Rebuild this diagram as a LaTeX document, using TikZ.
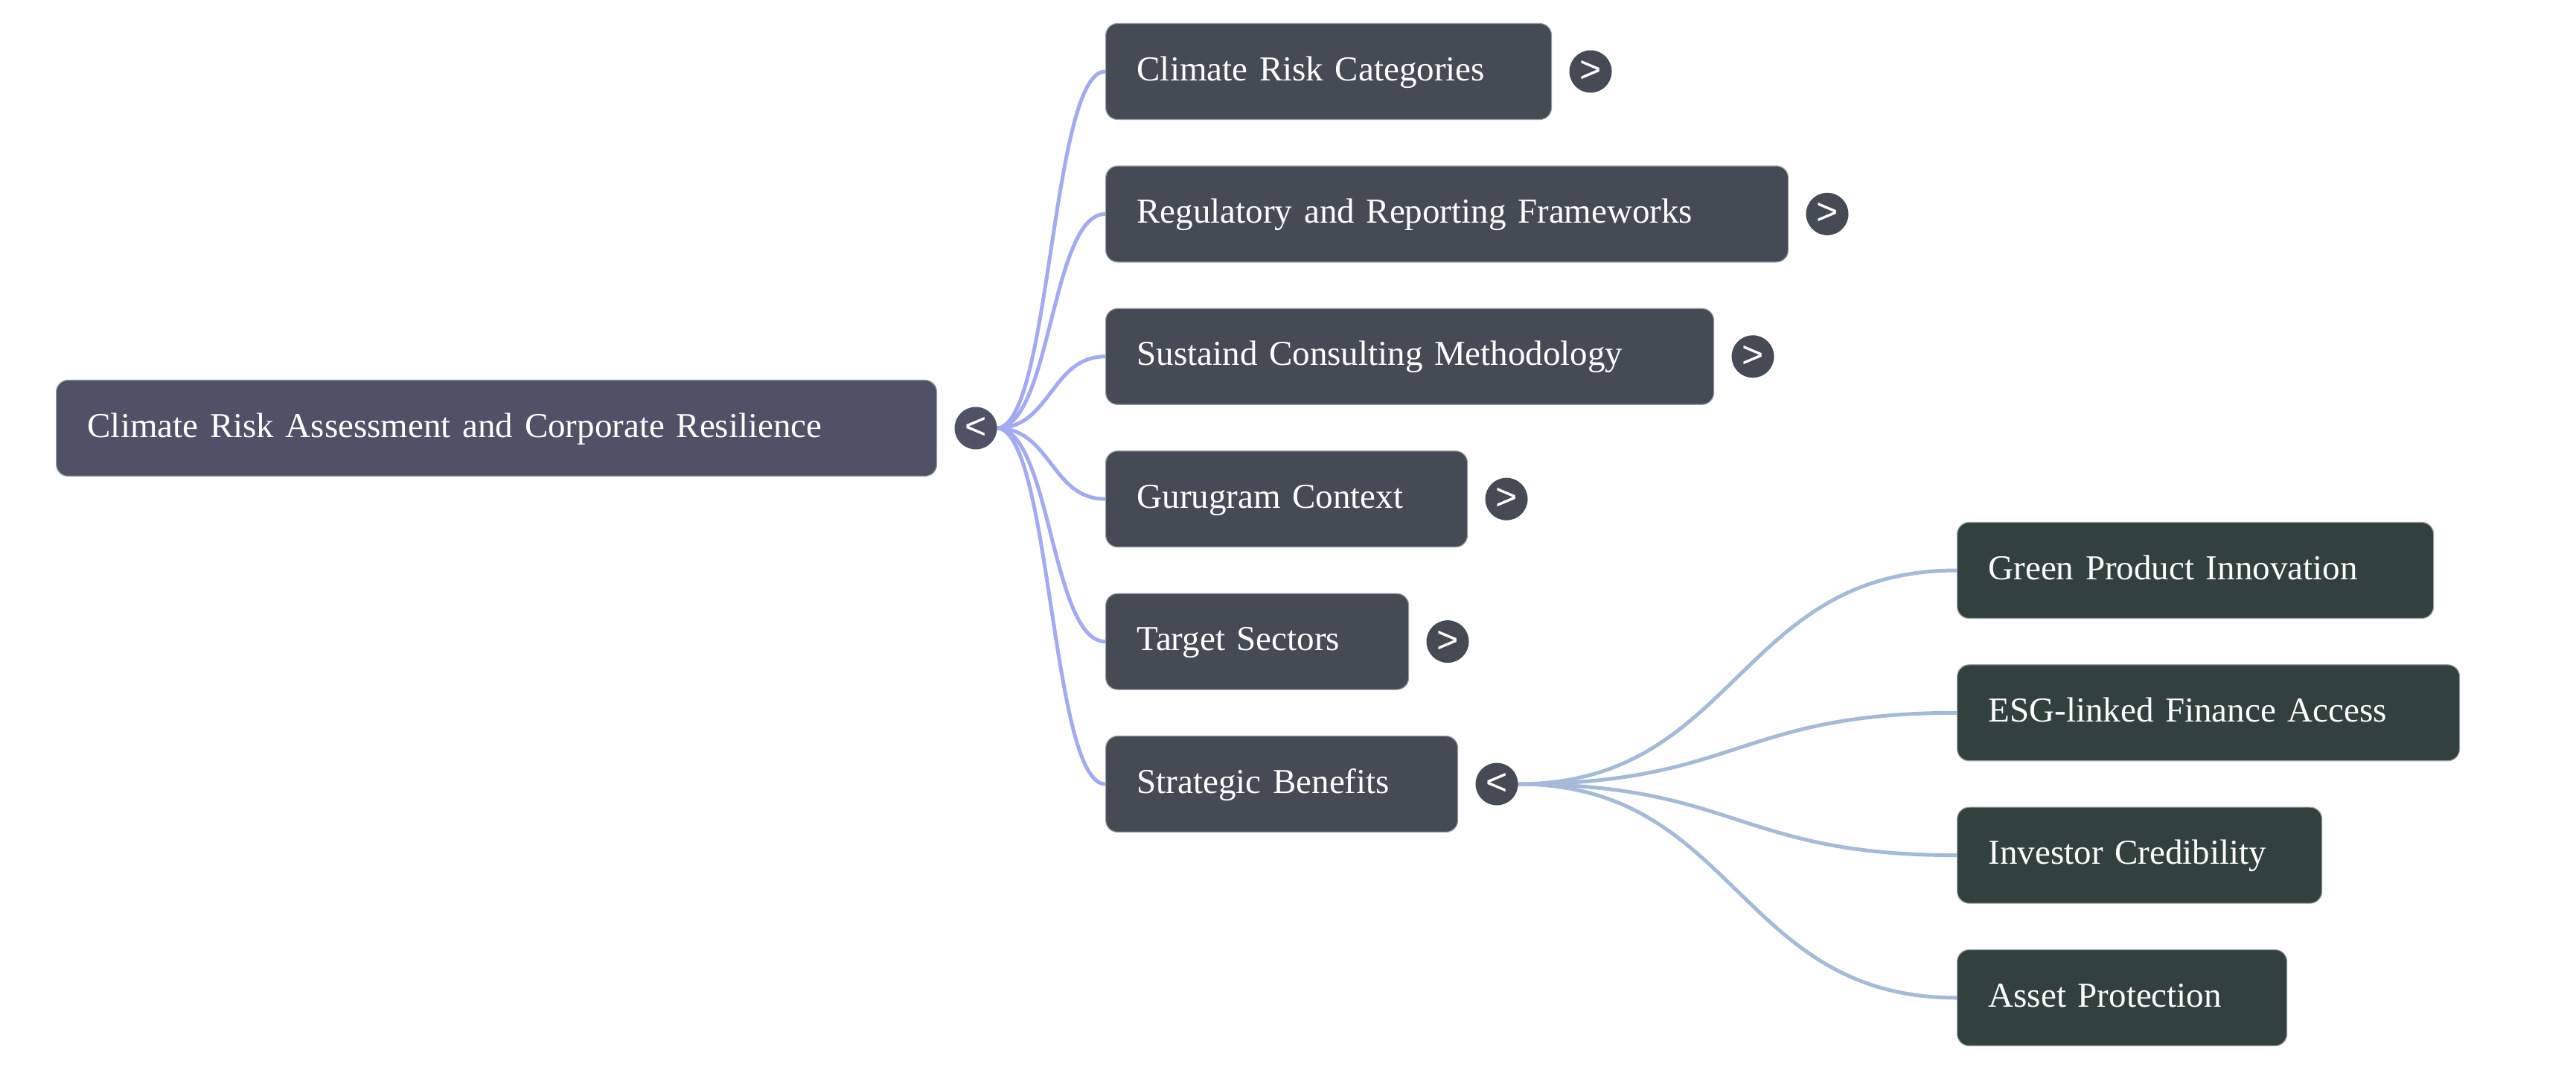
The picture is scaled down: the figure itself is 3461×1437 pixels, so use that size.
\documentclass[tikz,border=0pt]{standalone}
\usepackage{fontspec}
\setmainfont{Liberation Serif}
\newfontfamily\togglefont{Liberation Sans}
\definecolor{rootfill}{HTML}{4F5166}
\definecolor{lonefill}{HTML}{444B55}
\definecolor{ltwofill}{HTML}{33413E}
\definecolor{loneedge}{HTML}{A2AAF4}
\definecolor{ltwoedge}{HTML}{A3BBD9}
\definecolor{boxline}{HTML}{9A9EA6}
\tikzset{
  box/.style={rounded corners=16, minimum height=129, inner xsep=42, inner ysep=0,
    text height=35, text depth=11, font=\fontsize{47}{56}\selectfont, text=white,
    anchor=west, align=left, draw=boxline, line width=1.2},
  rootbox/.style={box, fill=rootfill},
  lonebox/.style={box, fill=lonefill},
  ltwobox/.style={box, fill=ltwofill},
  tog/.style={circle, minimum size=57, inner sep=0, text=white,
    font=\togglefont\fontsize{50}{50}\selectfont},
  linkone/.style={draw=loneedge, line width=5},
  linktwo/.style={draw=ltwoedge, line width=5}
}
\begin{document}
\begin{tikzpicture}[x=1pt,y=-1pt]
\useasboundingbox (0,0) rectangle (3461,1437);
% nodes
\node[rootbox, text width=1099] (root) at (75,575) {Climate Risk Assessment and Corporate Resilience};
\node[lonebox, text width=515] (a) at (1485,96) {Climate Risk Categories};
\node[lonebox, text width=833] (b) at (1485,287.4) {Regulatory and Reporting Frameworks};
\node[lonebox, text width=733] (c) at (1485,478.8) {Sustaind Consulting Methodology};
\node[lonebox, text width=402] (d) at (1485,670.2) {Gurugram Context};
\node[lonebox, text width=323] (e) at (1485,861.6) {Target Sectors};
\node[lonebox, text width=389] (f) at (1485,1053) {Strategic Benefits};
\node[ltwobox, text width=556] (g) at (2629,766) {Green Product Innovation};
\node[ltwobox, text width=591] (h) at (2629,957.3) {ESG-linked Finance Access};
\node[ltwobox, text width=406] (i) at (2629,1148.6) {Investor Credibility};
\node[ltwobox, text width=359] (j) at (2629,1340) {Asset Protection};
% toggle positions
\coordinate (rtc) at (1311,575);
\coordinate (atc) at (2137,96);
\coordinate (btc) at (2455,287.4);
\coordinate (ctc) at (2355,478.8);
\coordinate (dtc) at (2024,670.2);
\coordinate (etc) at (1945,861.6);
\coordinate (ftc) at (2011,1053);
% links level 1
\foreach \n in {a,b,c,d,e,f}{
  \path[linkone] (1339,575) .. controls (1412,575) and (1412,0|-\n.west) .. (\n.west);
}
% links level 2
\foreach \n in {g,h,i,j}{
  \path[linktwo] (2039,1053) .. controls (2334,1053) and (2334,0|-\n.west) .. (\n.west);
}
% toggles
\node[tog, fill=rootfill] (rt) at (rtc) {<};
\node[tog, fill=lonefill] (at) at (atc) {>};
\node[tog, fill=lonefill] (bt) at (btc) {>};
\node[tog, fill=lonefill] (ct) at (ctc) {>};
\node[tog, fill=lonefill] (dt) at (dtc) {>};
\node[tog, fill=lonefill] (et) at (etc) {>};
\node[tog, fill=lonefill] (ft) at (ftc) {<};
\end{tikzpicture}
\end{document}
